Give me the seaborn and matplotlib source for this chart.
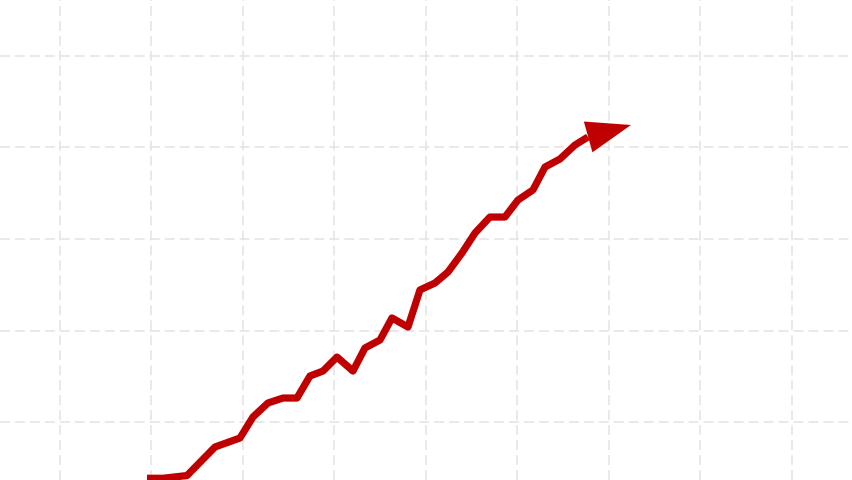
import matplotlib
matplotlib.use("Agg")
import matplotlib.pyplot as plt
import seaborn as sns
import pandas as pd

# Data (grid units; one grid cell = 1 unit)
x_vals = [0.951, 1.126, 1.388, 1.694, 1.967, 2.109, 2.273, 2.437, 2.590, 2.732,
          2.874, 3.027, 3.202, 3.333, 3.497, 3.628, 3.803, 3.934, 4.098, 4.240,
          4.393, 4.536, 4.699, 4.863, 5.005, 5.169, 5.301, 5.464, 5.628, 5.770]
y_vals = [-0.615, -0.615, -0.585, -0.273, -0.175, 0.055, 0.208, 0.262, 0.262, 0.503,
          0.557, 0.710, 0.557, 0.809, 0.896, 1.137, 1.038, 1.443, 1.519, 1.639,
          1.847, 2.066, 2.240, 2.240, 2.426, 2.536, 2.787, 2.874, 3.027, 3.115]
arrow_tip = (6.240, 3.246)

df = pd.DataFrame({"x": x_vals, "y": y_vals})

sns.set_theme(style="whitegrid")
fig = plt.figure(figsize=(8.52, 4.80), dpi=100)
ax = fig.add_axes([0, 0, 1, 1])

red = "#c00000"
sns.lineplot(data=df, x="x", y="y", ax=ax, color=red, linewidth=5.2,
             sort=False, estimator=None, solid_joinstyle="round", solid_capstyle="butt")

ax.annotate("", xy=arrow_tip, xytext=(x_vals[-1], y_vals[-1]),
            arrowprops=dict(arrowstyle="-|>,head_length=32,head_width=11.5",
                            mutation_scale=1, color=red, lw=0,
                            shrinkA=0, shrinkB=0))

ax.set_xlim(-60 / 91.5, (852 - 60) / 91.5)
ax.set_ylim(-58 / 91.5, 422 / 91.5)
ax.set_xticks(range(0, 9))
ax.set_yticks(range(0, 5))
ax.set_xticklabels([])
ax.set_yticklabels([])
ax.tick_params(length=0)
ax.set_xlabel("")
ax.set_ylabel("")
for s in ax.spines.values():
    s.set_visible(False)
ax.set_facecolor("white")
ax.grid(True, color="#e3e3e3", linewidth=1.1, linestyle=(0, (6.5, 3.3)))
ax.set_axisbelow(True)

fig.savefig("out.png", dpi=100, facecolor="white")
